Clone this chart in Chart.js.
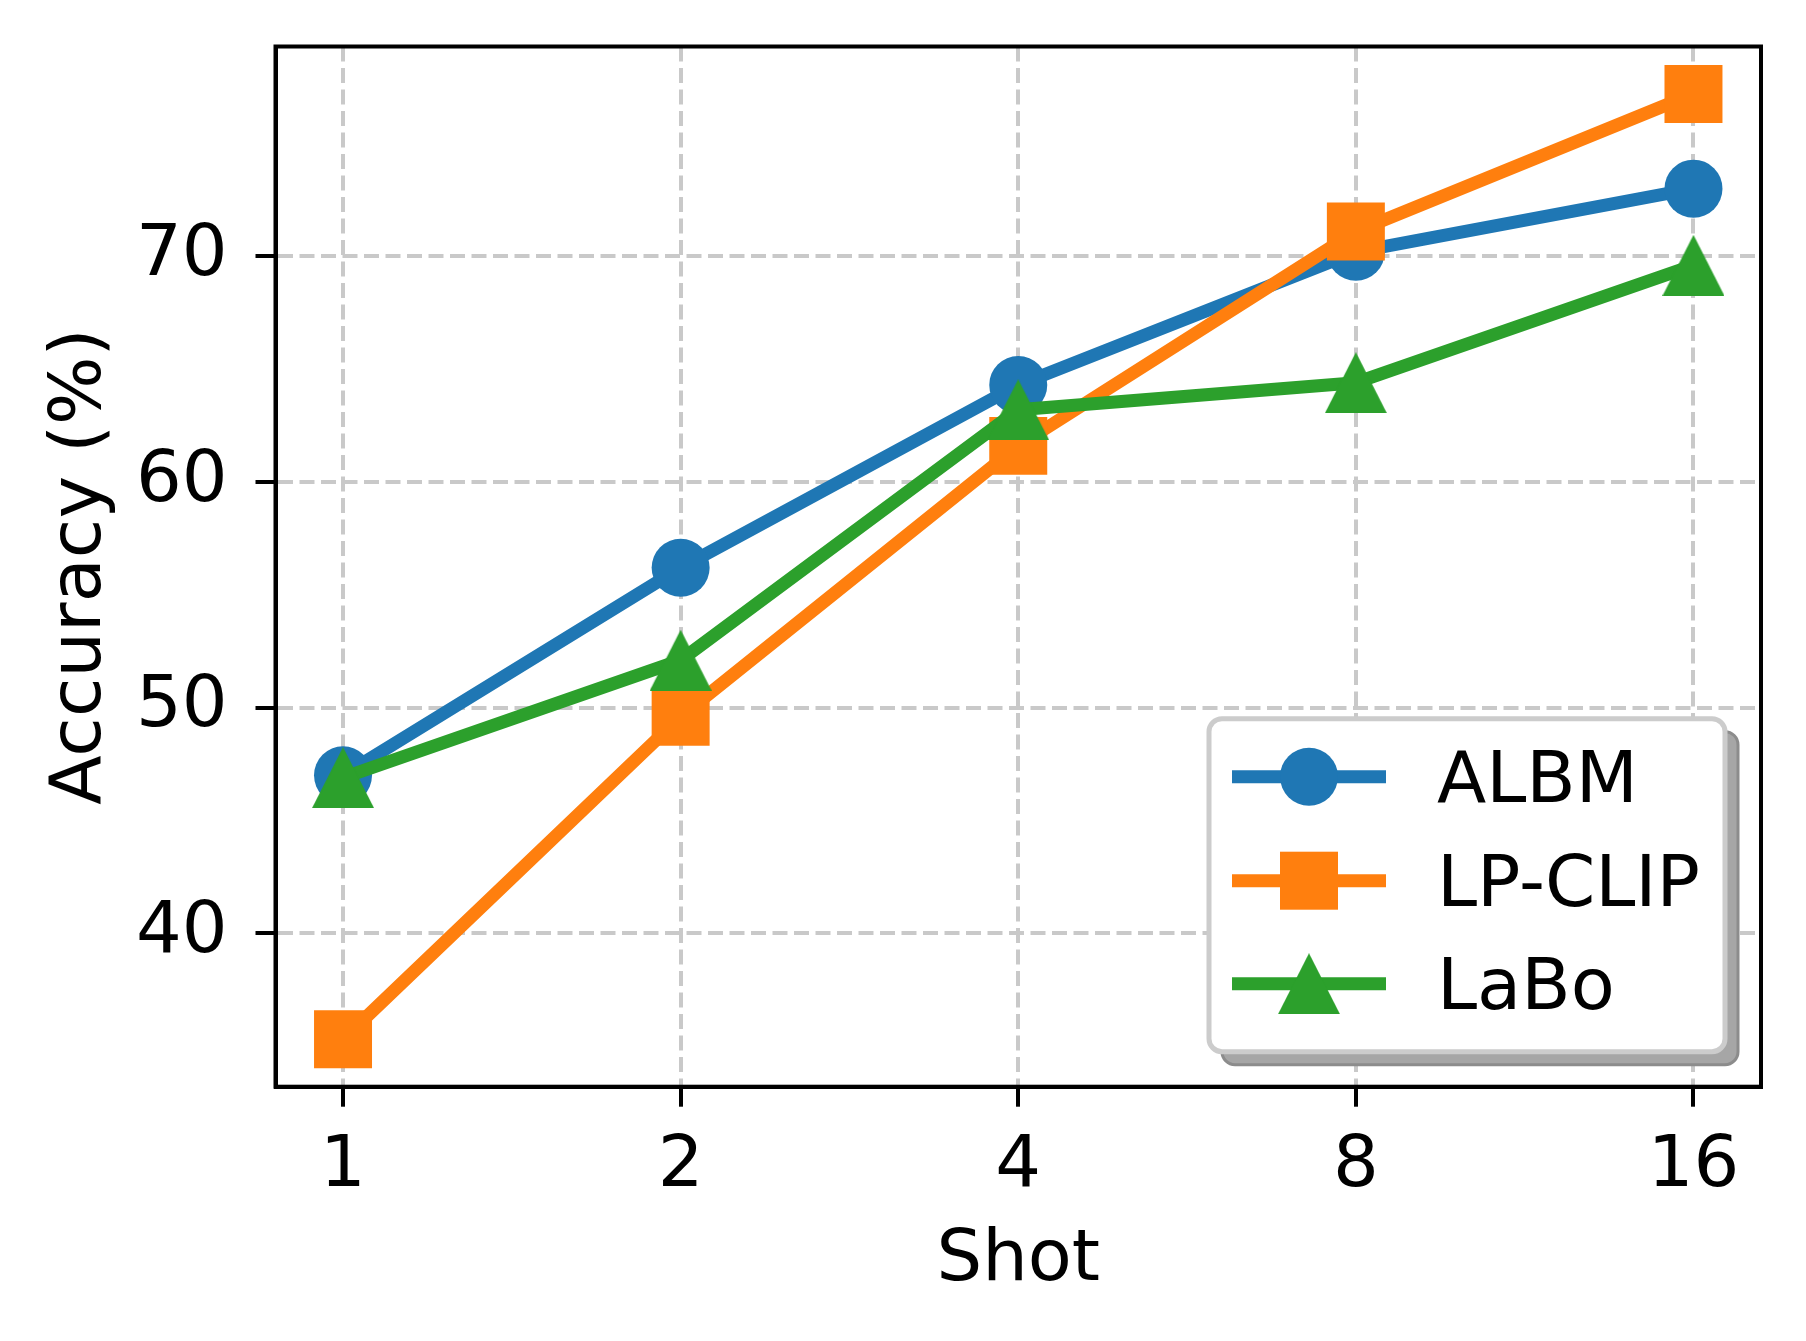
<!DOCTYPE html>
<html>
<head>
<meta charset="utf-8">
<title>Accuracy vs Shot</title>
<script src="https://cdn.jsdelivr.net/npm/chart.js@4.4.1/dist/chart.umd.min.js"></script>
<style>
    html, body { margin: 0; padding: 0; background: #ffffff; }
    #chartBox { width: 1806px; height: 1341px; }
</style>
</head>
<body>
<div id="chartBox"><canvas id="shotChart" width="1806" height="1341"></canvas></div>
<script>
// Values
const shotLabels = ['1', '2', '4', '8', '16'];
const yTickValues = [40, 50, 60, 70];
const seriesNames = ['ALBM', 'LP-CLIP', 'LaBo'];
const albmValues = [47.0, 56.2, 64.3, 70.2, 73.0];
const lpClipValues = [35.3, 49.6, 61.6, 71.1, 77.2];
const laboValues = [46.9, 52.1, 63.2, 64.4, 69.6];

const colors = ['#1f77b4', '#ff7f0e', '#2ca02c'];
const fontFamily = "'DejaVu Sans', 'Liberation Sans', sans-serif";
const fontSize = 72;

// Matplotlib style '^' marker drawn on a small canvas
function makeTriangle(color, w, h) {
    const c = document.createElement('canvas');
    c.width = w;
    c.height = h;
    const g = c.getContext('2d');
    g.fillStyle = color;
    g.beginPath();
    g.moveTo(w / 2, 0);
    g.lineTo(w, h);
    g.lineTo(0, h);
    g.closePath();
    g.fill();
    return c;
}
const triangleMarker = makeTriangle(colors[2], 62, 61);

function toPoints(values) {
    return values.map(function(v, i) { return { x: i, y: v }; });
}

function roundRect(ctx, x, y, w, h, r) {
    ctx.beginPath();
    ctx.moveTo(x + r, y);
    ctx.lineTo(x + w - r, y);
    ctx.arcTo(x + w, y, x + w, y + r, r);
    ctx.lineTo(x + w, y + h - r);
    ctx.arcTo(x + w, y + h, x + w - r, y + h, r);
    ctx.lineTo(x + r, y + h);
    ctx.arcTo(x, y + h, x, y + h - r, r);
    ctx.lineTo(x, y + r);
    ctx.arcTo(x, y, x + r, y, r);
    ctx.closePath();
}

// Full box around the plot area (matplotlib spines)
const framePlugin = {
    id: 'frame',
    afterDatasetsDraw(chart) {
        const a = chart.chartArea;
        const ctx = chart.ctx;
        ctx.save();
        ctx.strokeStyle = '#000000';
        ctx.lineWidth = 4;
        ctx.strokeRect(a.left, a.top, a.right - a.left, a.bottom - a.top);
        ctx.restore();
    }
};

// Legend with shadow, lower right corner
const legendPlugin = {
    id: 'mplLegend',
    afterDraw(chart) {
        const ctx = chart.ctx;
        const a = chart.chartArea;
        const boxW = 516, boxH = 333;
        const boxX = a.right - 36 - boxW;
        const boxY = a.bottom - 35 - boxH;

        ctx.save();
        // shadow
        roundRect(ctx, boxX + 13, boxY + 13, boxW, boxH, 13);
        ctx.fillStyle = '#a6a6a6';
        ctx.fill();
        ctx.strokeStyle = '#8c8c8c';
        ctx.lineWidth = 3;
        ctx.stroke();
        // box
        roundRect(ctx, boxX, boxY, boxW, boxH, 13);
        ctx.fillStyle = '#ffffff';
        ctx.fill();
        ctx.strokeStyle = '#cccccc';
        ctx.lineWidth = 5;
        ctx.stroke();

        const rowY = [boxY + 58, boxY + 162, boxY + 265];
        const lineX1 = boxX + 23, lineX2 = boxX + 177, markX = boxX + 100;
        for (let i = 0; i < seriesNames.length; i++) {
            const y = rowY[i];
            ctx.strokeStyle = colors[i];
            ctx.lineWidth = 13;
            ctx.beginPath();
            ctx.moveTo(lineX1, y);
            ctx.lineTo(lineX2, y);
            ctx.stroke();
            ctx.fillStyle = colors[i];
            if (i === 0) {
                ctx.beginPath();
                ctx.arc(markX, y, 29, 0, Math.PI * 2);
                ctx.fill();
            } else if (i === 1) {
                ctx.fillRect(markX - 29, y - 29, 58, 58);
            } else {
                ctx.drawImage(triangleMarker, markX - 31, y - 30.5);
            }
            ctx.fillStyle = '#000000';
            ctx.font = fontSize + 'px ' + fontFamily;
            ctx.textBaseline = 'alphabetic';
            ctx.textAlign = 'left';
            ctx.fillText(seriesNames[i], boxX + 228, y + 25);
        }
        ctx.restore();
    }
};

const gridStyle = {
    color: '#c9c9c9',
    lineWidth: 4,
    drawTicks: true,
    tickLength: 20,
    tickWidth: 4,
    tickColor: '#000000'
};

const ctx = document.getElementById('shotChart').getContext('2d');
const shotChart = new Chart(ctx, {
    type: 'line',
    data: {
        datasets: [
            {
                label: seriesNames[0],
                data: toPoints(albmValues),
                borderColor: colors[0],
                backgroundColor: colors[0],
                borderWidth: 13,
                pointStyle: 'circle',
                pointRadius: 29,
                pointBorderWidth: 0,
                order: 3
            },
            {
                label: seriesNames[1],
                data: toPoints(lpClipValues),
                borderColor: colors[1],
                backgroundColor: colors[1],
                borderWidth: 13,
                pointStyle: 'rect',
                pointRadius: 41,
                pointBorderWidth: 0,
                order: 2
            },
            {
                label: seriesNames[2],
                data: toPoints(laboValues),
                borderColor: colors[2],
                backgroundColor: colors[2],
                borderWidth: 13,
                pointStyle: triangleMarker,
                pointRadius: 31,
                pointBorderWidth: 0,
                order: 1
            }
        ]
    },
    options: {
        responsive: false,
        animation: false,
        devicePixelRatio: 1,
        clip: false,
        layout: { padding: { left: 0, top: 46.5, right: 45, bottom: 0 } },
        plugins: {
            legend: { display: false },
            tooltip: { enabled: false }
        },
        elements: { line: { tension: 0, borderCapStyle: 'round', borderJoinStyle: 'round' } },
        scales: {
            x: {
                type: 'linear',
                min: -0.2,
                max: 4.2,
                afterBuildTicks: function(scale) {
                    scale.ticks = shotLabels.map(function(l, i) { return { value: i }; });
                },
                afterFit: function(scale) {
                    scale.height = 254.3;
                    scale.paddingLeft = 0;
                    scale.paddingRight = 0;
                },
                ticks: {
                    color: '#000000',
                    font: { family: fontFamily, size: fontSize },
                    padding: 17,
                    maxRotation: 0,
                    autoSkip: false,
                    callback: function(v) { return shotLabels[v]; }
                },
                grid: gridStyle,
                border: { display: true, color: '#000000', width: 4, dash: [15, 6.5] },
                title: {
                    display: true,
                    text: 'Shot',
                    color: '#000000',
                    font: { family: fontFamily, size: fontSize },
                    padding: { top: 0, bottom: 37 }
                }
            },
            y: {
                type: 'linear',
                min: 33.2,
                max: 79.3,
                afterBuildTicks: function(scale) {
                    scale.ticks = yTickValues.map(function(v) { return { value: v }; });
                },
                afterFit: function(scale) {
                    scale.width = 275.5;
                    // keep label overhang from pushing the plot area down
                    scale.paddingTop = 0;
                    scale.paddingBottom = 0;
                },
                ticks: {
                    color: '#000000',
                    font: { family: fontFamily, size: fontSize },
                    padding: 28
                },
                grid: gridStyle,
                border: { display: true, color: '#000000', width: 4, dash: [15, 6.5] },
                title: {
                    display: true,
                    text: 'Accuracy (%)',
                    color: '#000000',
                    font: { family: fontFamily, size: fontSize },
                    padding: { top: 38, bottom: 0 }
                }
            }
        }
    },
    plugins: [framePlugin, legendPlugin]
});
</script>
</body>
</html>
